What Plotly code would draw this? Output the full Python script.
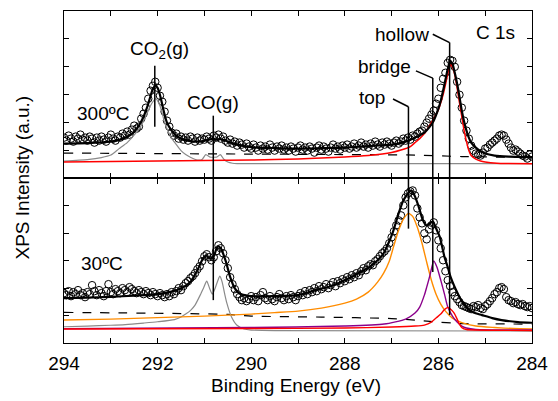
import numpy as np
import plotly.graph_objects as go

# ---------------- data (intensities in arbitrary units) ----------------
E_START, E_END = 294.0, 284.0
X_TICK_STEP = 2

# measured points, 0.05 eV sampling grid from 294 to 284 eV
UPPER_DATA = [
    41, 38, 43, 40, 37, 42, 40, 44, 39, 41, 38, 42, 40, 36, 41, 38, 42, 39, 37, 41,
    44, 40, 38, 42, 41, 45, 43, 47, 44, 49, 53, 50, 52, 60, 65, 71, 80, 88, 93, 97,
    91, 83, 77, 67, 58, 52, 46, 43, 45, 40, 42, 39, 41, 38, 42, 40, 37, 41, 38, 40,
    39, 42, 40, 38, 43, 41, 44, 40, 42, 38, 36, 39, 35, 37, 33, 36, 34, 31, 35, 32,
    30, 34, 31, 28, 33, 30, 32, 29, 34, 31, 28, 32, 30, 33, 29, 31, 28, 32, 30, 27,
    31, 33, 29, 31, 28, 32, 30, 26, 31, 33, 29, 32, 30, 27, 31, 34, 30, 32, 29, 33,
    31, 34, 30, 32, 35, 31, 33, 36, 32, 34, 31, 35, 33, 37, 34, 32, 36, 34, 37, 35,
    33, 36, 38, 35, 37, 40, 38, 41, 39, 43, 42, 45, 47, 48, 52, 56, 60, 64, 68, 75,
    80, 91, 100, 106, 116, 119, 118, 112, 97, 84, 71, 58, 48, 40, 33, 28, 25, 24, 23, 26,
    30, 31, 34, 36, 38, 40, 43, 44, 43, 39, 35, 31, 28, 29, 27, 25, 23, 22, 20, 24,
    22,
]
LOWER_DATA = [
    50, 48, 52, 47, 51, 49, 53, 48, 50, 46, 51, 49, 58, 52, 48, 53, 50, 47, 52, 59,
    51, 49, 54, 52, 50, 55, 53, 51, 56, 54, 52, 50, 53, 51, 49, 52, 50, 48, 51, 49,
    47, 50, 48, 46, 49, 47, 51, 49, 52, 55, 53, 57, 60, 62, 65, 67, 70, 74, 77, 82,
    87, 89, 86, 83, 86, 92, 98, 95, 90, 83, 75, 66, 59, 54, 49, 46, 43, 45, 42, 44,
    47, 43, 46, 42, 48, 51, 45, 43, 47, 44, 42, 46, 49, 45, 43, 47, 44, 48, 46, 43,
    47, 50, 48, 52, 49, 53, 51, 55, 52, 57, 54, 56, 59, 55, 58, 61, 57, 62, 60, 64,
    62, 66, 64, 68, 66, 70, 68, 72, 75, 73, 77, 79, 78, 82, 84, 87, 90, 92, 95, 100,
    106, 112, 118, 123, 128, 138, 146, 150, 152, 153, 148, 135, 126, 120, 110, 104, 114, 118, 121, 113,
    103, 95, 83, 72, 63, 57, 51, 47, 44, 41, 38, 37, 36, 35, 34, 37, 36, 38, 35, 34,
    37, 39, 42, 45, 49, 51, 55, 56, 54, 46, 43, 42, 40, 41, 39, 38, 39, 37, 36, 37,
    35,
]

# fitted curves: (binding energy, intensity)
UPPER_FIT = [(294.0, 35), (293.5, 35.5), (293.0, 37), (292.8, 39), (292.6, 43), (292.5, 47),
             (292.4, 53), (292.3, 62), (292.25, 68), (292.2, 75), (292.15, 83), (292.1, 90),
             (292.05, 93), (292.0, 91), (291.95, 84), (291.9, 74), (291.85, 64), (291.8, 56),
             (291.7, 48), (291.6, 43), (291.5, 40), (291.3, 37.5), (291.1, 37), (290.95, 38.5),
             (290.85, 39.5), (290.75, 39), (290.65, 39.5), (290.5, 37), (290.3, 34), (290.0, 31.5),
             (289.5, 30.5), (289.0, 30), (288.5, 30.5), (288.0, 31), (287.5, 32.5), (287.0, 34),
             (286.7, 37), (286.5, 41), (286.3, 46), (286.2, 51), (286.1, 58), (286.0, 70),
             (285.95, 78), (285.9, 88), (285.85, 99), (285.8, 110), (285.75, 118), (285.7, 115),
             (285.65, 106), (285.6, 95), (285.55, 82), (285.5, 68), (285.45, 57), (285.4, 48),
             (285.35, 41), (285.3, 36), (285.2, 31), (285.1, 27.5), (285.0, 25), (284.8, 23),
             (284.5, 22), (284.0, 21.5)]
UPPER_HOLLOW = [(294, 16.5), (293, 17), (292, 17.5), (291, 18), (290, 18.5), (289, 19.5),
                (288.5, 20.5), (288, 21.5), (287.5, 23), (287.2, 24.5), (287.0, 26), (286.8, 28.5),
                (286.6, 32), (286.5, 36), (286.4, 40), (286.3, 45), (286.2, 52), (286.1, 60),
                (286.0, 69), (285.95, 76), (285.9, 84), (285.85, 94), (285.8, 105), (285.77, 111),
                (285.74, 114), (285.7, 112), (285.65, 104), (285.6, 91), (285.55, 76), (285.5, 62),
                (285.45, 48), (285.4, 37), (285.35, 28), (285.3, 23), (285.2, 19.5), (285.1, 17.5),
                (285.0, 16.5), (284.75, 15.3), (284.5, 15), (284.0, 14.7)]
UPPER_GAS = [(294, 17.5), (293.5, 19), (293.2, 21), (293.0, 23.5), (292.83, 29.7), (292.65, 36),
             (292.48, 44.7), (292.35, 53), (292.27, 61), (292.2, 68), (292.13, 75), (292.04, 80),
             (291.95, 73), (291.9, 65), (291.85, 56), (291.78, 48), (291.71, 41), (291.6, 34),
             (291.5, 28), (291.4, 24), (291.29, 21), (291.15, 18.5), (291.05, 19), (290.97, 24),
             (290.88, 21.5), (290.8, 21.3), (290.73, 21.5), (290.66, 24), (290.58, 19),
             (290.5, 16.5), (290.4, 15.3), (290.3, 15), (284, 15)]
UPPER_BKG = [(294, 25.5), (292, 25), (290, 24.5), (288, 24), (286.5, 23.5), (285.5, 22), (284, 21)]

LOWER_FIT = [(294, 45), (293.5, 45.5), (293, 46.3), (292.5, 47.5), (292, 49), (291.7, 51.5),
             (291.5, 54.7), (291.3, 61.3), (291.15, 73), (291.05, 83), (290.97, 88), (290.88, 84.7),
             (290.8, 87), (290.72, 97), (290.65, 95), (290.55, 83), (290.45, 66.3), (290.35, 54.7),
             (290.25, 49.7), (290.1, 47.5), (290.0, 47), (289.5, 47), (289.0, 48), (288.63, 53),
             (288.3, 57), (288.0, 63), (287.75, 69), (287.48, 76), (287.3, 83), (287.17, 90),
             (287.05, 102), (286.96, 113), (286.85, 130), (286.75, 143), (286.65, 150),
             (286.58, 153), (286.5, 147), (286.43, 138), (286.33, 123), (286.26, 118),
             (286.18, 120), (286.12, 122), (286.05, 115), (285.97, 106.3), (285.87, 86.3),
             (285.8, 76), (285.74, 66.3), (285.66, 57), (285.59, 50), (285.5, 42), (285.38, 35),
             (285.25, 30.5), (285.07, 28), (284.85, 25), (284.65, 23), (284.3, 21), (284.0, 20.3)]
LOWER_TOP = [(294, 23), (293, 24), (292, 25.5), (291, 27), (290, 29), (289.5, 30.5), (289, 32),
             (288.5, 35), (288, 40), (287.75, 44), (287.5, 51), (287.3, 61), (287.17, 70),
             (287.05, 82), (286.95, 98), (286.85, 113), (286.75, 124), (286.64, 130),
             (286.55, 127), (286.45, 116), (286.35, 100), (286.25, 81), (286.15, 63), (286.05, 49),
             (285.95, 39), (285.85, 32), (285.7, 25), (285.5, 20.5), (285.2, 17), (284.8, 15.5),
             (284.4, 14.5), (284.0, 14)]
LOWER_BRIDGE = [(294, 14.3), (290, 15.5), (288, 17), (287.16, 19), (286.7, 24), (286.5, 30),
                (286.4, 36), (286.3, 48), (286.25, 56), (286.18, 68), (286.1, 82.3), (286.03, 76),
                (285.95, 63), (285.87, 49), (285.8, 36), (285.7, 27), (285.6, 21), (285.5, 17),
                (285.4, 15), (285.2, 13.5), (284.0, 13)]
LOWER_HOLLOW = [(294, 14), (290, 14.5), (288, 15), (287, 16), (286.5, 17), (286.3, 18),
                (286.15, 21), (286.05, 25), (285.95, 29), (285.88, 33), (285.8, 35.7),
                (285.72, 33), (285.66, 29.7), (285.6, 24), (285.56, 19.7), (285.49, 15),
                (285.4, 13.5), (285.2, 13), (284, 12.5)]
LOWER_GAS = [(294, 16.3), (293.5, 17), (293, 17.8), (292.69, 18.5), (292.3, 20), (292.0, 21.3),
             (291.64, 23.5), (291.5, 26), (291.4, 29), (291.29, 33), (291.2, 38), (291.08, 49),
             (291.02, 55), (290.95, 62), (290.89, 55), (290.83, 49), (290.77, 55), (290.71, 63),
             (290.67, 67), (290.62, 61), (290.57, 50), (290.52, 40), (290.42, 26), (290.31, 18),
             (290.15, 14), (290.0, 13), (289.5, 12.5), (284, 12)]
LOWER_BKG = [(294, 30.7), (290.5, 28.7), (290, 27), (288.5, 26), (287, 24.5), (286.5, 23),
             (286, 21), (285.5, 19.5), (284, 19)]

# peak assignments (binding energy, eV)
PEAKS = {"CO2": 292.06, "CO": 290.81, "top": 286.64, "bridge": 286.12, "hollow": 285.76}

# ---------------- figure ----------------
UP_RANGE = 168
LO_RANGE = 165
SPLIT = 165 / 333

def upp(v):
    return SPLIT + v / UP_RANGE * (1 - SPLIT)

def lop(v):
    return v / LO_RANGE * SPLIT

E_GRID = np.round(np.linspace(E_START, E_END, len(UPPER_DATA)), 2)

fig = go.Figure()

def curve(pairs, color, width, xa, ya, dash=None):
    xs, ys = zip(*pairs)
    fig.add_trace(go.Scatter(x=xs, y=ys, mode="lines", xaxis=xa, yaxis=ya,
                             line=dict(color=color, width=width, dash=dash, shape="spline", smoothing=0.6),
                             hoverinfo="skip"))

def points(vals, xa, ya):
    fig.add_trace(go.Scatter(x=E_GRID, y=vals, mode="markers", xaxis=xa, yaxis=ya,
                             marker=dict(symbol="circle-open", size=7.5, color="black",
                                         line=dict(width=1, color="black"))))

GRAY = "#8a8a8a"
ORANGE = "#ff8c00"
PURPLE = "#8b008b"
RED = "#ff0000"

# upper panel (300 C)
points(UPPER_DATA, "x", "y")
curve(UPPER_BKG, "black", 1.2, "x", "y", dash="dash")
curve(UPPER_GAS, GRAY, 1.2, "x", "y")
curve(UPPER_HOLLOW, RED, 1.5, "x", "y")
curve(UPPER_FIT, "black", 2.2, "x", "y")

# lower panel (30 C)
points(LOWER_DATA, "x2", "y2")
curve(LOWER_BKG, "black", 1.2, "x2", "y2", dash="dash")
curve(LOWER_GAS, GRAY, 1.2, "x2", "y2")
curve(LOWER_TOP, ORANGE, 1.4, "x2", "y2")
curve(LOWER_BRIDGE, PURPLE, 1.4, "x2", "y2")
curve(LOWER_HOLLOW, RED, 1.4, "x2", "y2")
curve(LOWER_FIT, "black", 2.2, "x2", "y2")

axis_common = dict(showline=True, linecolor="black", linewidth=1.4, mirror="ticks",
                   ticks="inside", ticklen=5, tickwidth=1.4, tickcolor="black",
                   showgrid=False, zeroline=False)
x_common = dict(axis_common, range=[E_START, E_END], tickmode="linear", tick0=E_END,
                dtick=X_TICK_STEP,
                minor=dict(dtick=1, ticks="inside", ticklen=5, tickwidth=1.4,
                           tickcolor="black", showgrid=False))

fig.update_layout(
    width=558, height=401,
    margin=dict(l=64, r=17, t=10, b=58),
    paper_bgcolor="white", plot_bgcolor="white", showlegend=False,
    font=dict(family="Liberation Sans, Arial, sans-serif", size=19, color="black"),
    xaxis=dict(x_common, anchor="y", showticklabels=False),
    yaxis=dict(axis_common, domain=[SPLIT, 1], anchor="x", range=[0, UP_RANGE],
               tickmode="linear", tick0=0, dtick=28, showticklabels=False),
    xaxis2=dict(x_common, anchor="y2", showticklabels=True, tickfont=dict(size=19),
                ticklabelstandoff=3),
    yaxis2=dict(axis_common, domain=[0, SPLIT], anchor="x2", range=[0, LO_RANGE],
                tickmode="linear", tick0=0, dtick=27.5, showticklabels=False),
)

LINE = dict(color="black", width=1.5)
shapes = [
    dict(type="line", xref="x", yref="y", x0=PEAKS["CO2"], x1=PEAKS["CO2"], y0=52, y1=113, line=LINE),
    dict(type="line", xref="x", yref="paper", x0=PEAKS["CO"], x1=PEAKS["CO"], y0=lop(43), y1=upp(63), line=LINE),
    dict(type="line", xref="x", yref="paper", x0=286.97, x1=PEAKS["top"], y0=upp(79.7), y1=upp(72), line=LINE),
    dict(type="line", xref="x", yref="paper", x0=PEAKS["top"], x1=PEAKS["top"], y0=upp(72), y1=lop(114.7), line=LINE),
    dict(type="line", xref="x", yref="paper", x0=286.48, x1=PEAKS["bridge"], y0=upp(108), y1=upp(100.7), line=LINE),
    dict(type="line", xref="x", yref="paper", x0=PEAKS["bridge"], x1=PEAKS["bridge"], y0=upp(100.7), y1=lop(71.3), line=LINE),
    dict(type="line", xref="x", yref="paper", x0=286.12, x1=PEAKS["hollow"], y0=upp(144.7), y1=upp(136.3), line=LINE),
    dict(type="line", xref="x", yref="paper", x0=PEAKS["hollow"], x1=PEAKS["hollow"], y0=upp(136.3), y1=lop(28), line=LINE),
]
fig.update_layout(shapes=shapes)

def label(text, x, y, yref="y"):
    return dict(text=text, x=x, y=y, xref="x", yref=yref, showarrow=False,
                xanchor="center", yanchor="middle", font=dict(size=19))

annotations = [
    label("CO<sub>2</sub>(g)", 291.97, 129),
    label("CO(g)", 290.81, 76.3),
    label("300ºC", 293.17, 64.7),
    label("C 1s", 284.78, 146.3),
    label("hollow", 286.77, 144.7),
    label("bridge", 287.16, 112.3),
    label("top", 287.41, 81.3),
    label("30ºC", 293.18, 79.7, yref="y2"),
    dict(text="Binding Energy (eV)", x=0.495, y=-0.129, xref="paper", yref="paper",
         showarrow=False, xanchor="center", yanchor="middle", font=dict(size=19)),
    dict(text="XPS Intensity (a.u.)", x=-0.088, y=0.498, xref="paper", yref="paper",
         showarrow=False, xanchor="center", yanchor="middle", textangle=-90, font=dict(size=19)),
]
fig.update_layout(annotations=annotations)

fig.write_html("out.html", config={"displayModeBar": False},
               post_script="document.body.style.margin='0';document.body.style.overflow='hidden';")
